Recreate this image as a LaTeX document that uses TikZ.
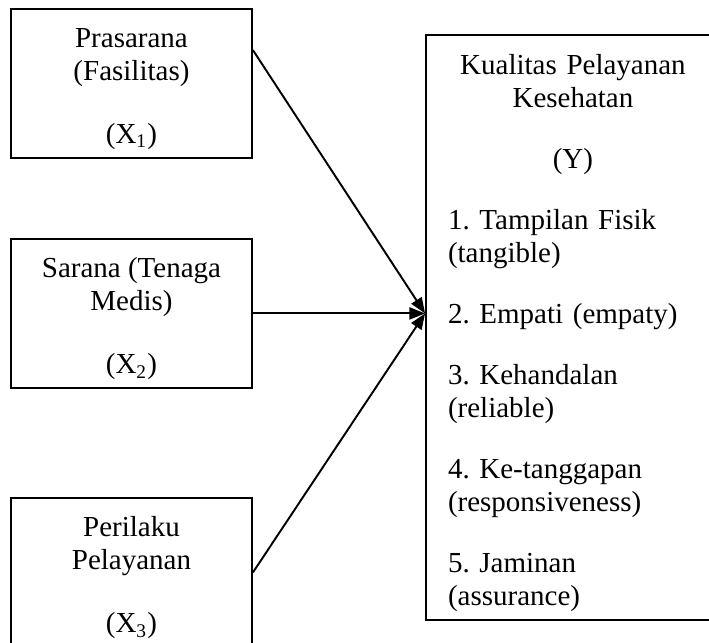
\documentclass[tikz,border=0pt]{standalone}
\usepackage{fontspec}
\setmainfont{Liberation Serif}
\usetikzlibrary{arrows.meta, positioning}
\setlength{\parindent}{0pt}
\frenchspacing

\begin{document}
\begin{tikzpicture}[
		every node/.style={font=\fontsize{12pt}{13.66pt}\selectfont},
		varbox/.style={draw, line width=0.8pt, align=center, minimum width=99.7pt, minimum height=61.7pt, inner sep=2pt},
		resultbox/.style={draw, line width=0.8pt, text width=103.4pt, inner xsep=9.1pt, minimum height=241.2pt},
		arrowstyle/.style={-{Triangle[length=6.5pt, width=5pt]}, line width=0.8pt}
	]
	\useasboundingbox (0,0) rectangle (293.4pt,-265.7pt);
	\node[varbox] (x1) at (54.4pt,-34.5pt) {
		\rule{0pt}{12.6pt}Prasarana\\
		(Fasilitas)\\[12.5pt]
		(X\textsubscript{1})
	};
	\node[varbox, below=32.7pt of x1] (x2) {
		\rule{0pt}{12.6pt}Sarana (Tenaga\\
		Medis)\\[12.5pt]
		(X\textsubscript{2})
	};
	\node[varbox, below=44.7pt of x2] (x3) {
		\rule{0pt}{12.6pt}Perilaku\\
		Pelayanan\\[12.5pt]
		(X\textsubscript{3})
	};
	\node[resultbox, anchor=west] (y) at (175.9pt,-135.5pt) {%
		\hyphenpenalty=10000%
		{\centering\rule{0pt}{13.2pt}Kualitas Pelayanan\\Kesehatan\\[11.6pt](Y)\par}%
		\vspace{11.6pt}\raggedright
		1. Tampilan Fisik\\(tangible)\par\vspace{11.6pt}
		2. Empati (empaty)\par\vspace{11.6pt}
		3. Kehandalan\\(reliable)\par\vspace{11.6pt}
		4. Ke-tanggapan\\(responsiveness)\par\vspace{11.6pt}
		5. Jaminan\\(assurance)%
	};
	\coordinate (meet) at (x2.east -| y.west);
	\draw[arrowstyle] ([yshift=13.8pt]x1.east) -- (meet);
	\draw[arrowstyle] (x2.east) -- (meet);
	\draw[arrowstyle] (x3.east) -- (meet);
\end{tikzpicture}
\end{document}
